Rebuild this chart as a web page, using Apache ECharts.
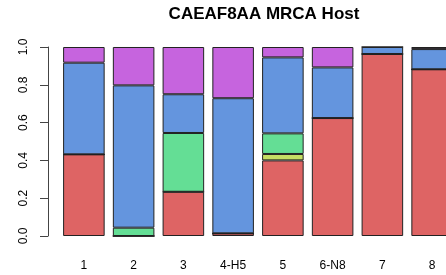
<!DOCTYPE html>
<html>
<head>
<meta charset="utf-8">
<script src="https://cdn.jsdelivr.net/npm/echarts@6/dist/echarts.min.js"></script>
<style>
  html, body { margin: 0; padding: 0; background: #fff; }
  #chart { width: 446px; height: 275px; }
</style>
</head>
<body>
<div id="chart"></div>
<script>
const categories = ['1', '2', '3', '4-H5', '5', '6-N8', '7', '8'];
const redVals    = [0.432, 0.000, 0.234, 0.014, 0.400, 0.624, 0.963, 0.882];
const yellowVals = [0.000, 0.000, 0.000, 0.000, 0.034, 0.000, 0.000, 0.000];
const greenVals  = [0.000, 0.044, 0.311, 0.000, 0.109, 0.000, 0.000, 0.000];
const blueVals   = [0.485, 0.753, 0.205, 0.715, 0.402, 0.268, 0.037, 0.107];
const purpleVals = [0.083, 0.203, 0.250, 0.271, 0.055, 0.108, 0.000, 0.011];
const yTicks = [0, 0.2, 0.4, 0.6, 0.8, 1.0];

const layers = [
  { name: 'red',    data: redVals,    color: '#DE6464' },
  { name: 'yellow', data: yellowVals, color: '#C6DE64' },
  { name: 'green',  data: greenVals,  color: '#64DE95' },
  { name: 'blue',   data: blueVals,   color: '#6495DE' },
  { name: 'purple', data: purpleVals, color: '#C664DE' }
];

const chart = echarts.init(document.getElementById('chart'));
chart.setOption({
  backgroundColor: '#fff',
  animation: false,
  title: {
    text: 'CAEAF8AA MRCA Host',
    left: 259, top: 1, textAlign: 'center',
    textStyle: { fontFamily: 'Liberation Sans', fontSize: 17, fontWeight: 'bold', color: '#000' }
  },
  // the last bar runs past the right edge, as in the original
  grid: { left: 59, right: -11, top: 47, bottom: 39, outerBoundsMode: 'none', containLabel: false },
  xAxis: {
    type: 'category',
    data: categories,
    axisLine: { show: false },
    axisTick: { show: false },
    axisLabel: { margin: 24, fontFamily: 'Liberation Sans', fontSize: 12, color: '#000' }
  },
  yAxis: {
    type: 'value',
    min: yTicks[0], max: yTicks[yTicks.length - 1], interval: 0.2,
    offset: 11,
    splitLine: { show: false },
    axisLine: { show: true, lineStyle: { color: '#444', width: 1 } },
    axisTick: { show: true, length: 8, lineStyle: { color: '#444' } },
    axisLabel: {
      rotate: 90, margin: 18,
      fontFamily: 'Liberation Sans', fontSize: 12, color: '#000',
      formatter: v => v.toFixed(1)
    }
  },
  series: layers.map(l => ({
    name: l.name,
    type: 'bar',
    stack: 'all',
    data: l.data,
    barCategoryGap: '16.5%',
    itemStyle: { color: l.color, borderColor: '#222', borderWidth: 1 }
  }))
});
</script>
</body>
</html>
